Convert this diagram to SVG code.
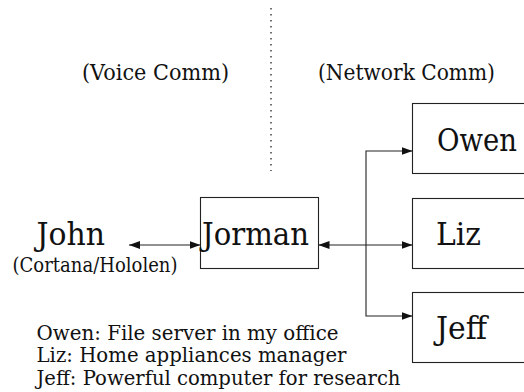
<svg xmlns="http://www.w3.org/2000/svg" width="524" height="392" viewBox="0 0 524 392">
  <style>
    text { font-family: 'DejaVu Serif', serif; fill: #111; }
    .big { font-size: 32px; }
    .mid { font-size: 22px; }
    .leg { font-size: 21px; }
    .small { font-size: 20px; }
    .box { fill: #fff; stroke: #222; stroke-width: 1.1; }
    .wire { fill: none; stroke: #222; stroke-width: 1.1; }
  </style>
  <defs>
    <marker id="head" viewBox="0 0 11 8" refX="11" refY="4" markerWidth="11" markerHeight="8" markerUnits="userSpaceOnUse" orient="auto-start-reverse">
      <path d="M0,0 L11,4 L0,8 z" fill="#111"/>
    </marker>
  </defs>

  <rect width="524" height="392" fill="#fff"/>

  <!-- divider between voice and network sides -->
  <line x1="271" y1="8" x2="271" y2="171" stroke="#111" stroke-width="1.2" stroke-dasharray="1.6 4.4"/>
  <text class="mid" x="82" y="80" textLength="147" lengthAdjust="spacingAndGlyphs">(Voice Comm)</text>
  <text class="mid" x="318" y="80" textLength="177" lengthAdjust="spacingAndGlyphs">(Network Comm)</text>

  <g id="john">
    <text class="big" x="36.5" y="245" textLength="68.5" lengthAdjust="spacingAndGlyphs">John</text>
    <text class="small" x="12.5" y="271.5" textLength="165" lengthAdjust="spacingAndGlyphs">(Cortana/Hololen)</text>
  </g>

  <g id="jorman">
    <rect class="box" x="200.5" y="197.5" width="118" height="71"/>
    <text class="big" x="202" y="244.5" textLength="107" lengthAdjust="spacingAndGlyphs">Jorman</text>
  </g>

  <g id="owen">
    <rect class="box" x="412.5" y="103.5" width="120" height="70"/>
    <text class="big" x="437" y="150.5" textLength="80" lengthAdjust="spacingAndGlyphs">Owen</text>
  </g>

  <g id="liz">
    <rect class="box" x="412.5" y="198.5" width="120" height="70"/>
    <text class="big" x="436" y="245" textLength="45" lengthAdjust="spacingAndGlyphs">Liz</text>
  </g>

  <g id="jeff">
    <rect class="box" x="412.5" y="292.5" width="120" height="70"/>
    <text class="big" x="436" y="339" textLength="51" lengthAdjust="spacingAndGlyphs">Jeff</text>
  </g>

  <g id="connectors">
    <line class="wire" x1="129" y1="245" x2="200.5" y2="245" marker-start="url(#head)" marker-end="url(#head)"/>
    <line class="wire" x1="318.5" y1="245" x2="412.5" y2="245" marker-start="url(#head)" marker-end="url(#head)"/>
    <path class="wire" d="M412.5,151 H366 V316 H412.5" marker-start="url(#head)" marker-end="url(#head)"/>
  </g>

  <g id="legend">
    <text class="leg" x="36.5" y="339.5" textLength="302" lengthAdjust="spacingAndGlyphs">Owen: File server in my office</text>
    <text class="leg" x="36.5" y="362" textLength="310" lengthAdjust="spacingAndGlyphs">Liz: Home appliances manager</text>
    <text class="leg" x="36.5" y="384.5" textLength="364" lengthAdjust="spacingAndGlyphs">Jeff: Powerful computer for research</text>
  </g>
</svg>
